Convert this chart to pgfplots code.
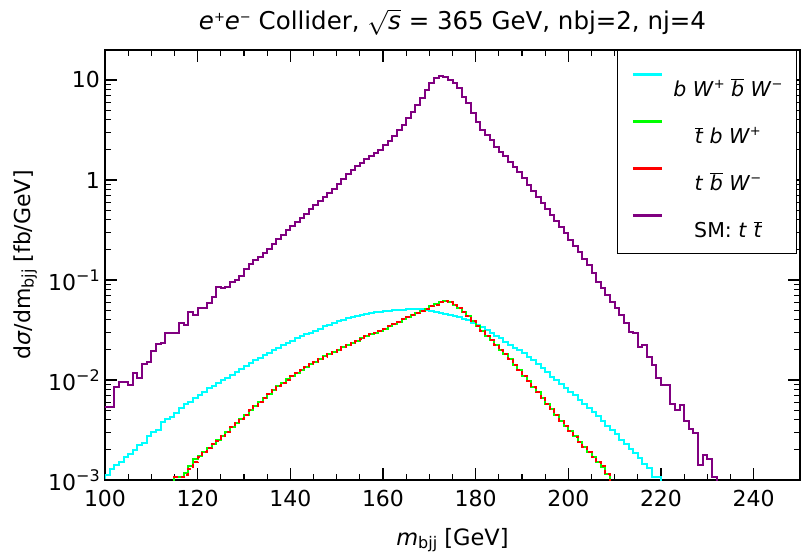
\documentclass[border=0pt]{standalone}
\usepackage{fontspec}
\setmainfont{DejaVu Sans}
\usepackage{pgfplots}
\pgfplotsset{compat=1.18}
\definecolor{smpurple}{HTML}{800080}
\definecolor{bwbw}{HTML}{00FFFF}
\definecolor{tbw}{HTML}{00FF00}
\definecolor{tbbw}{HTML}{FF0000}

% small raised / lowered text for labels set in the text font
\newcommand\tsup[1]{\raisebox{9pt}{\fontsize{16}{16}\selectfont #1}}
\newcommand\lsup[1]{\raisebox{8pt}{\fontsize{13}{13}\selectfont #1}}
\newcommand\lsub[1]{\raisebox{-3.5pt}{\fontsize{16}{16}\selectfont #1}}

\begin{document}
\begin{tikzpicture}
\begin{axis}[
  name=ax, scale only axis, width=695pt, height=430pt,
  xmin=100, xmax=250, ymode=log, ymin=1e-3, ymax=19.95,
  xtick={100,120,...,240}, xticklabels={100,120,140,160,180,200,220,240},
  minor x tick num=3,
  ytick={0.001,0.01,0.1,1,10},
  yticklabels={10\tsup{−3},10\tsup{−2},10\tsup{−1},1,10},
  tick align=inside, major tick length=12pt, minor tick length=6pt,
  every tick/.style={black, line width=1.1pt},
  axis line style={line width=1.2pt},
  xticklabel style={font=\fontsize{22}{26}\selectfont, inner sep=0pt, yshift=-10pt},
  yticklabel style={font=\fontsize{22}{26}\selectfont, inner sep=0pt, xshift=-5pt},
  title={\textit{e}\lsup{+}\textit{e}\lsup{−} Collider, $\sqrt{\textit{s}}$ = 365 GeV, nbj=2, nj=4},
  title style={font=\fontsize{24.5}{28}\selectfont, inner sep=0pt, at={(axis description cs:0.5,1.0326)}, anchor=base},
  xlabel={\textit{m}\lsub{bjj} [GeV]},
  xlabel style={font=\fontsize{22.5}{26}\selectfont, at={(axis description cs:0.5,-0.1512)}, anchor=base},
  ylabel={d\textit{σ}/dm\lsub{bjj} [fb/GeV]},
  ylabel style={font=\fontsize{22}{26}\selectfont, at={(axis description cs:-0.1079,0.5)}, anchor=base},
  legend cell align=center,
  legend image code/.code={\draw[#1, solid, line width=3pt] (0pt,7pt) -- (29pt,7pt);},
  legend style={at={(1,1)}, anchor=north east, xshift=-3pt, draw=black, line width=1pt,
    fill=white, inner xsep=14pt, inner ysep=14pt, font=\fontsize{20.5}{24}\selectfont,
    row sep=13pt, column sep=10pt,
    nodes={inner sep=0pt, text height=32pt, text depth=2pt}},
]
% b W+ bbar W-
\addplot[bwbw, line width=2pt, const plot mark left] coordinates {
(99,0.00105) (100,0.001122) (101,0.001279) (102,0.001413) (103,0.001524) (104,0.00171)
(105,0.00182) (106,0.001995) (107,0.002239) (108,0.00236) (109,0.002754) (110,0.003041)
(111,0.003162) (112,0.003828) (113,0.004046) (114,0.004295) (115,0.00471) (116,0.005212)
(117,0.005754) (118,0.006067) (119,0.006561) (120,0.007079) (121,0.007638) (122,0.00826)
(123,0.00871) (124,0.009268) (125,0.01) (126,0.01047) (127,0.01122) (128,0.01202)
(129,0.01288) (130,0.0138) (131,0.01479) (132,0.01585) (133,0.0166) (134,0.01778)
(135,0.01862) (136,0.01995) (137,0.02089) (138,0.02213) (139,0.02344) (140,0.02455)
(141,0.026) (142,0.02723) (143,0.02851) (144,0.02985) (145,0.03126) (146,0.03273)
(147,0.03428) (148,0.03548) (149,0.03715) (150,0.0389) (151,0.03981) (152,0.04121)
(153,0.04217) (154,0.04365) (155,0.04467) (156,0.04571) (157,0.04677) (158,0.04732)
(159,0.04808) (160,0.04875) (161,0.04932) (162,0.04977) (163,0.05012) (164,0.05012)
(165,0.0507) (166,0.05129) (167,0.05129) (168,0.0507) (169,0.04955) (170,0.04898)
(171,0.04819) (172,0.0471) (173,0.04603) (174,0.04467) (175,0.04365) (176,0.04217)
(177,0.04074) (178,0.03981) (179,0.03715) (180,0.03548) (181,0.03388) (182,0.03162)
(183,0.02951) (184,0.02754) (185,0.0263) (186,0.02399) (187,0.02239) (188,0.02075)
(189,0.01995) (190,0.01862) (191,0.01698) (192,0.01585) (193,0.01445) (194,0.01318)
(195,0.01202) (196,0.01079) (197,0.01) (198,0.00912) (199,0.008318) (200,0.007638)
(201,0.007079) (202,0.00631) (203,0.005754) (204,0.005248) (205,0.004786) (206,0.004365)
(207,0.00389) (208,0.003467) (209,0.003162) (210,0.002884) (211,0.002512) (212,0.002291)
(213,0.002042) (214,0.001862) (215,0.00166) (216,0.001445) (217,0.001318) (218,0.001079)
(219,0.001079) (220,0.0002) (221,0.0002)
};
\addlegendentry{\textit{b W}\lsup{+} $\overline{\textit{b}}$ \textit{W}\lsup{−}\hspace{13pt}}
% tbar b W+
\addplot[tbw, line width=2pt, const plot mark left] coordinates {
(114,0.0002) (115,0.001079) (116,0.001079) (117,0.001175) (118,0.00138) (119,0.001622)
(120,0.001738) (121,0.001905) (122,0.002089) (123,0.002291) (124,0.002512) (125,0.002754)
(126,0.00302) (127,0.003388) (128,0.003715) (129,0.004074) (130,0.004467) (131,0.005012)
(132,0.005495) (133,0.006026) (134,0.006607) (135,0.007244) (136,0.007943) (137,0.00871)
(138,0.009333) (139,0.01012) (140,0.01096) (141,0.01175) (142,0.01259) (143,0.01349)
(144,0.01429) (145,0.01514) (146,0.01622) (147,0.01718) (148,0.0182) (149,0.01905)
(150,0.02018) (151,0.02138) (152,0.02239) (153,0.02344) (154,0.02455) (155,0.026)
(156,0.02723) (157,0.02851) (158,0.02985) (159,0.03126) (160,0.03273) (161,0.03467)
(162,0.03631) (163,0.03846) (164,0.04027) (165,0.04266) (166,0.04467) (167,0.04677)
(168,0.04898) (169,0.05129) (170,0.05433) (171,0.05689) (172,0.06026) (173,0.06209)
(174,0.06026) (175,0.05623) (176,0.05248) (177,0.04786) (178,0.04365) (179,0.0389)
(180,0.03467) (181,0.0309) (182,0.02754) (183,0.02512) (184,0.02239) (185,0.01995)
(186,0.0182) (187,0.01622) (188,0.01413) (189,0.01259) (190,0.01096) (191,0.009772)
(192,0.008511) (193,0.007586) (194,0.006607) (195,0.005754) (196,0.005129) (197,0.004467)
(198,0.00389) (199,0.003467) (200,0.00309) (201,0.002754) (202,0.002399) (203,0.002138)
(204,0.001905) (205,0.001698) (206,0.001514) (207,0.001349) (208,0.001148) (209,0.0002)
(210,0.0002)
};
\addlegendentry{$\overline{\textit{t}}$ \textit{b W}\lsup{+}\hspace{13pt}}
% t bbar W-
\addplot[tbbw, line width=2pt, dash pattern=on 4pt off 3pt, const plot mark left] coordinates {
(114,0.0002) (115,0.001079) (116,0.001079) (117,0.00112) (118,0.00128) (119,0.0015)
(120,0.0017) (121,0.001905) (122,0.00207) (123,0.002291) (124,0.00248) (125,0.002754)
(126,0.00305) (127,0.003388) (128,0.00368) (129,0.004074) (130,0.00451) (131,0.004960)
(132,0.005495) (133,0.00608) (134,0.006607) (135,0.00718) (136,0.007943) (137,0.00878)
(138,0.009333) (139,0.01005) (140,0.01096) (141,0.01183) (142,0.01259) (143,0.0134)
(144,0.01429) (145,0.01524) (146,0.01622) (147,0.01708) (148,0.0182) (149,0.01918)
(150,0.02018) (151,0.02125) (152,0.02239) (153,0.02358) (154,0.02455) (155,0.0259)
(156,0.02723) (157,0.02866) (158,0.02985) (159,0.03112) (160,0.03273) (161,0.03482)
(162,0.03631) (163,0.03830) (164,0.04027) (165,0.04285) (166,0.04467) (167,0.04660)
(168,0.04898) (169,0.05150) (170,0.05433) (171,0.05670) (172,0.06026) (173,0.06230)
(174,0.06000) (175,0.05650) (176,0.05248) (177,0.04760) (178,0.04365) (179,0.0391)
(180,0.03467) (181,0.0307) (182,0.02754) (183,0.02530) (184,0.02239) (185,0.01980)
(186,0.0182) (187,0.01635) (188,0.01413) (189,0.01248) (190,0.01096) (191,0.009850)
(192,0.008511) (193,0.007520) (194,0.006607) (195,0.005800) (196,0.005129) (197,0.004420)
(198,0.00389) (199,0.003500) (200,0.00309) (201,0.002720) (202,0.002399) (203,0.002160)
(204,0.001905) (205,0.001680) (206,0.001514) (207,0.001365) (208,0.001140) (209,0.0002)
(210,0.0002)
};
\addlegendentry{\textit{t} $\overline{\textit{b}}$ \textit{W}\lsup{−}\hspace{13pt}}
% SM t tbar
\addplot[smpurple, line width=2pt, const plot mark left] coordinates {
(99,0.0054) (100,0.0054) (101,0.0054) (102,0.0085) (103,0.0096) (104,0.0096) (105,0.0089)
(106,0.0118) (107,0.0104) (108,0.0145) (109,0.0152) (110,0.0195) (111,0.023)
(112,0.0236) (113,0.0293) (114,0.0293) (115,0.0293) (116,0.037) (117,0.0355)
(118,0.0475) (119,0.0447) (120,0.052) (121,0.052) (122,0.059) (123,0.068)
(124,0.0857) (125,0.0826) (126,0.0857) (127,0.096) (128,0.1) (129,0.1096)
(130,0.1288) (131,0.1445) (132,0.1585) (133,0.1698) (134,0.1862) (135,0.2042)
(136,0.2291) (137,0.257) (138,0.2818) (139,0.3162) (140,0.3467) (141,0.3802)
(142,0.4169) (143,0.4571) (144,0.5129) (145,0.5623) (146,0.6166) (147,0.6761)
(148,0.7413) (149,0.8128) (150,0.912) (151,1.023) (152,1.148) (153,1.259)
(154,1.38) (155,1.479) (156,1.622) (157,1.738) (158,1.862) (159,1.995)
(160,2.239) (161,2.455) (162,2.754) (163,3.162) (164,3.548) (165,4.169)
(166,4.786) (167,5.623) (168,6.607) (169,7.943) (170,9.333) (171,10.47)
(172,10.84) (173,10.72) (174,10.0) (175,9.27) (176,8.26) (177,6.81)
(178,5.85) (179,4.65) (180,3.83) (181,3.162) (182,2.818) (183,2.512)
(184,2.153) (185,1.905) (186,1.738) (187,1.514) (188,1.349) (189,1.202)
(190,1.047) (191,0.891) (192,0.776) (193,0.676) (194,0.589) (195,0.513)
(196,0.447) (197,0.389) (198,0.339) (199,0.295) (200,0.251) (201,0.219)
(202,0.191) (203,0.162) (204,0.141) (205,0.1175) (206,0.0962) (207,0.0826)
(208,0.0708) (209,0.0607) (210,0.0521) (211,0.0447) (212,0.0369) (213,0.0304)
(214,0.0293) (215,0.0215) (216,0.0224) (217,0.0171) (218,0.0141) (219,0.0104)
(220,0.0089) (221,0.0089) (222,0.00575) (223,0.005) (224,0.00562) (225,0.00389)
(226,0.00324) (227,0.00295) (228,0.00141) (229,0.00178) (230,0.00162) (231,0.00107)
(232,0.0002) (233,0.0002)
};
\addlegendentry{SM: \textit{t} $\overline{\textit{t}}$\hspace{13pt}}
\end{axis}
\pgfresetboundingbox
\path[use as bounding box] ([shift={(-105pt,-74pt)}]ax.south west) rectangle ([shift={(1pt,50pt)}]ax.north east);
\end{tikzpicture}
\end{document}
